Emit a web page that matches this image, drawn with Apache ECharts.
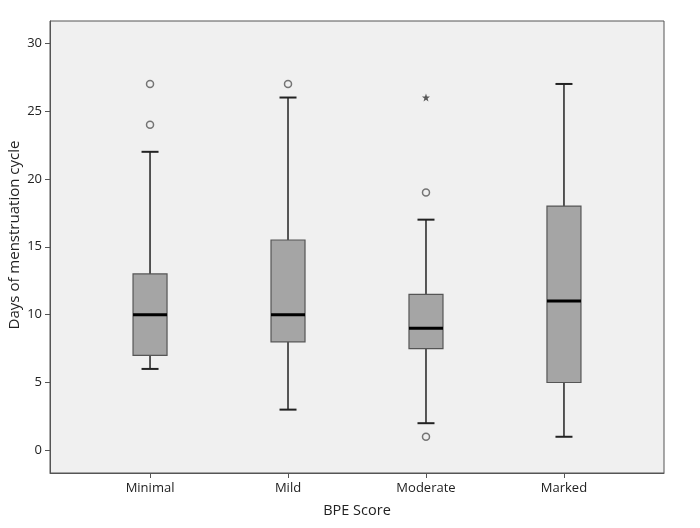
<!DOCTYPE html>
<html><head><meta charset="utf-8">
<script src="https://cdn.jsdelivr.net/npm/echarts@6/dist/echarts.min.js"></script>
<style>html,body{margin:0;padding:0;background:#fff}#c{width:700px;height:528px}</style>
</head><body><div id="c"></div>
<script>
const categories = ['Minimal', 'Mild', 'Moderate', 'Marked'];
// [low whisker, Q1, median, Q3, high whisker]
const boxMinimal = [6, 7, 10, 13, 22];
const boxMild = [3, 8, 10, 15.5, 26];
const boxModerate = [2, 7.5, 9, 11.5, 17];
const boxMarked = [1, 5, 11, 18, 27];
const outliersCircle = [[1, 27], [1, 24], [2, 27], [3, 19], [3, 1]];
const outliersStar = [[3, 26]];
const yTicks = [0, 5, 10, 15, 20, 25, 30];

const boxes = [boxMinimal, boxMild, boxModerate, boxMarked].map((b, i) => [i + 1].concat(b));
const font = '"Open Sans", "Noto Sans", sans-serif';

const chart = echarts.init(document.getElementById('c'), null, {renderer: 'canvas'});
chart.setOption({
  animation: false,
  backgroundColor: '#fff',
  grid: {left: 50, right: 36, top: 21, bottom: 55, show: true, backgroundColor: '#f0f0f0', borderColor: '#555', borderWidth: 1,
    containLabel: false, outerBoundsMode: 'none'},
  xAxis: {
    type: 'value', min: 0.275, max: 4.725,
    name: 'BPE Score', nameLocation: 'middle', nameGap: 30, nameMoveOverlap: false,
    nameTextStyle: {fontFamily: font, fontSize: 14.5, color: '#222'},
    splitLine: {show: false},
    axisLine: {show: true, onZero: false, lineStyle: {color: '#555'}},
    axisTick: {show: true, length: 5, customValues: [1, 2, 3, 4], lineStyle: {color: '#555'}},
    axisLabel: {customValues: [1, 2, 3, 4], margin: 9, fontFamily: font, fontSize: 13, color: '#222',
      formatter: v => categories[Math.round(v) - 1] || ''}
  },
  yAxis: {
    type: 'value', min: -1.67, max: 31.64,
    name: 'Days of menstruation cycle', nameLocation: 'middle', nameGap: 28, nameRotate: 90, nameMoveOverlap: false,
    nameTextStyle: {fontFamily: font, fontSize: 15, color: '#222', padding: [0, 0, 0, 24]},
    splitLine: {show: false},
    axisLine: {show: true, onZero: false, lineStyle: {color: '#555'}},
    axisTick: {show: true, length: 5, customValues: yTicks, lineStyle: {color: '#555'}},
    axisLabel: {customValues: yTicks, margin: 8, fontFamily: font, fontSize: 13, color: '#222'}
  },
  series: [
    {
      type: 'custom',
      data: boxes,
      renderItem: function (params, api) {
        const x = api.value(0);
        const pLow = api.coord([x, api.value(1)]);
        const pQ1 = api.coord([x, api.value(2)]);
        const pMed = api.coord([x, api.value(3)]);
        const pQ3 = api.coord([x, api.value(4)]);
        const pHigh = api.coord([x, api.value(5)]);
        const cx = pMed[0];
        const bw = 34, cw = 17;
        const ws = {stroke: '#222', lineWidth: 1.5};
        return {
          type: 'group',
          children: [
            {type: 'line', shape: {x1: cx, y1: pQ3[1], x2: cx, y2: pHigh[1]}, style: ws},
            {type: 'line', shape: {x1: cx, y1: pQ1[1], x2: cx, y2: pLow[1]}, style: ws},
            {type: 'line', shape: {x1: cx - cw / 2, y1: pHigh[1], x2: cx + cw / 2, y2: pHigh[1]}, style: {stroke: '#222', lineWidth: 2}},
            {type: 'line', shape: {x1: cx - cw / 2, y1: pLow[1], x2: cx + cw / 2, y2: pLow[1]}, style: {stroke: '#222', lineWidth: 2}},
            {type: 'rect', shape: {x: cx - bw / 2, y: pQ3[1], width: bw, height: pQ1[1] - pQ3[1]}, style: {fill: '#a5a5a5', stroke: '#555', lineWidth: 1.2}},
            {type: 'line', shape: {x1: cx - bw / 2, y1: pMed[1], x2: cx + bw / 2, y2: pMed[1]}, style: {stroke: '#000', lineWidth: 3}}
          ]
        };
      }
    },
    {
      type: 'scatter',
      data: outliersCircle,
      symbol: 'circle', symbolSize: 7,
      itemStyle: {color: 'transparent', borderColor: '#555', borderWidth: 1.5}
    },
    {
      type: 'scatter',
      data: outliersStar,
      symbol: 'path://M0,-10 L2.35,-3.09 L9.51,-3.09 L3.8,1.18 L5.88,8.09 L0,3.82 L-5.88,8.09 L-3.8,1.18 L-9.51,-3.09 L-2.35,-3.09 Z',
      symbolSize: 8,
      itemStyle: {color: '#333'}
    }
  ]
});
</script>
</body></html>
